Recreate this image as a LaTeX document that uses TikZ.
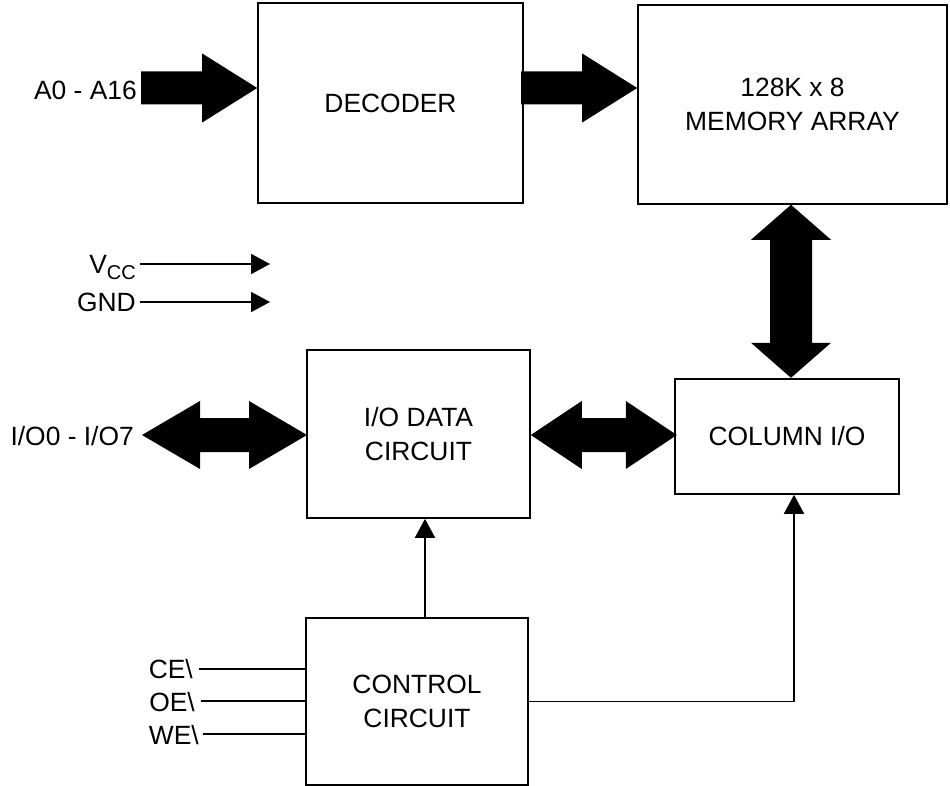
\documentclass[tikz,border=0pt]{standalone}
\usepackage{fontspec}
\setmainfont{Liberation Sans}
\usetikzlibrary{arrows.meta}
\begin{document}
\begin{tikzpicture}[x=1pt,y=1pt,
  blk/.style={draw,line width=1.6pt,inner sep=0pt,align=center,font=\fontsize{26.4}{33.5}\selectfont},
  lbl/.style={inner sep=0pt,font=\fontsize{26.4}{33.5}\selectfont},
  fat/.style={fill=black},
  thin/.style={line width=1.7pt},
  thinarrow/.style={line width=1.7pt,-{Triangle[length=19pt,width=20pt]}}]
\useasboundingbox (0,0) rectangle (950,-786);
% blocks
\node[blk,minimum width=265,minimum height=200] (dec) at (390.5,-103) {DECODER};
\node[blk,minimum width=309,minimum height=199] (mem) at (792.5,-104.5) {128K x 8\\MEMORY ARRAY};
\node[blk,minimum width=223,minimum height=168] (iod) at (418.5,-434) {I/O DATA\\CIRCUIT};
\node[blk,minimum width=224,minimum height=115] (col) at (787,-436.5) {COLUMN I/O};
\node[blk,minimum width=222,minimum height=167] (ctl) at (417,-701.5) {CONTROL\\CIRCUIT};
% labels
\node[lbl,anchor=base east] (addr) at (137,-100) {A0 - A16};
\node[lbl,anchor=base east] (vcc) at (136,-273) {V\raisebox{-6pt}{\fontsize{20}{22}\selectfont CC}};
\node[lbl,anchor=base east] (gnd) at (136,-311) {GND};
\node[lbl,anchor=base east] (io) at (134,-445) {I/O0 - I/O7};
\node[lbl,anchor=base east] (ce) at (193,-678) {CE\textbackslash};
\node[lbl,anchor=base east] (oe) at (195,-711) {OE\textbackslash};
\node[lbl,anchor=base east] (we) at (199,-744) {WE\textbackslash};
% free-end coordinates
\coordinate (vccend) at (270,-264);
\coordinate (gndend) at (270,-302);
\coordinate (iol) at (142,-435);
\coordinate (cein) at (199,-669);
\coordinate (oein) at (201,-701);
\coordinate (wein) at (203,-734);
% fat arrows
\fill[fat] (dec.west |- 0,-88) -- ++(-55,34.5) -- ++(0,-18) -- ++(-61,0) -- ++(0,-33) -- ++(61,0) -- ++(0,-18) -- cycle;
\fill[fat] (mem.west |- 0,-88) -- ++(-55,34.5) -- ++(0,-18) -- ++(-61,0) -- ++(0,-33) -- ++(61,0) -- ++(0,-18) -- cycle;
\fill[fat] (iol) -- ++(58,34) -- ++(0,-17) -- ++(49,0) -- ++(0,17) -- ++(58,-34) -- ++(-58,-34) -- ++(0,17) -- ++(-49,0) -- ++(0,-17) -- cycle;
\fill[fat] (iod.east |- iol) -- ++(51,34) -- ++(0,-17) -- ++(44,0) -- ++(0,17) -- ++(51,-34) -- ++(-51,-34) -- ++(0,17) -- ++(-44,0) -- ++(0,-17) -- cycle;
\fill[fat] (791,0 |- mem.south) -- ++(-40,-35) -- ++(19,0) -- ++(0,-103) -- ++(-19,0) -- ++(40,-35) -- ++(40,35) -- ++(-19,0) -- ++(0,103) -- ++(19,0) -- cycle;
% thin connectors
\draw[thinarrow] (vccend -| vcc.east) ++(4,0) -- (vccend);
\draw[thinarrow] (gndend -| gnd.east) ++(4,0) -- (gndend);
\draw[thin] (cein) -- ([xshift=2pt]cein -| ctl.west);
\draw[thin] (oein) -- (oein -| ctl.west);
\draw[thin] (wein) -- (wein -| ctl.west);
\draw[thinarrow] ([xshift=8pt]ctl.north) -- ([xshift=8pt]ctl.north |- iod.south);
\draw[thinarrow] (ctl.east) -| ([xshift=7pt]col.south);
\end{tikzpicture}
\end{document}
